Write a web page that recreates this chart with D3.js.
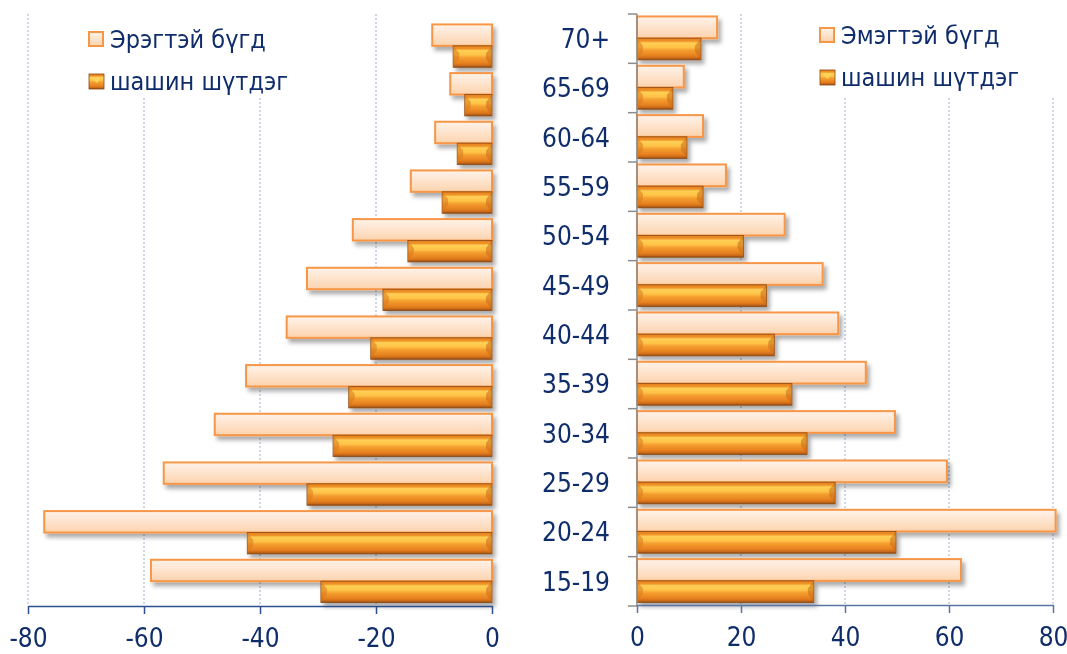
<!DOCTYPE html>
<html><head><meta charset="utf-8">
<script src="https://cdn.jsdelivr.net/npm/d3@7"></script>
<style>
html,body{margin:0;padding:0;background:#fff;}
svg{display:block;}
</style></head>
<body>
<svg id="chart" width="1067" height="654"></svg>
<script>
const categories = ["15-19","20-24","25-29","30-34","35-39","40-44","45-49","50-54","55-59","60-64","65-69","70+"];
const maleTotal    = [-58.8,-77.2,-56.6,-47.8,-42.4,-35.4,-31.9,-24.0,-14.0,-9.8,-7.2,-10.3];
const maleReligious= [-29.5,-42.2,-31.9,-27.4,-24.7,-20.9,-18.8,-14.5,-8.6,-6.0,-4.7,-6.7];
const femaleTotal    = [62.3,80.5,59.6,49.6,44.0,38.7,35.7,28.4,17.1,12.7,9.0,15.4];
const femaleReligious= [34.0,49.8,38.1,32.7,29.8,26.4,24.9,20.5,12.7,9.6,6.9,12.3];
const leftTicks = [-80,-60,-40,-20,0];
const rightTicks = [0,20,40,60,80];
const legendLeft = ["Эрэгтэй бүгд","шашин шүтдэг"];
const legendRight = ["Эмэгтэй бүгд","шашин шүтдэг"];

const svg = d3.select("#chart");
const navy = "#102d6b";
const font = "'DejaVu Sans Condensed', 'DejaVu Sans', sans-serif";

// defs
const defs = svg.append("defs");
const lg = defs.append("linearGradient").attr("id","lightG").attr("x1",0).attr("y1",0).attr("x2",0).attr("y2",1);
[["0%","#fff3ea"],["100%","#fcd3ae"]].forEach(s=>lg.append("stop").attr("offset",s[0]).attr("stop-color",s[1]));
const dg = defs.append("linearGradient").attr("id","darkG").attr("x1",0).attr("y1",0).attr("x2",0).attr("y2",1);
[["0%","#e57f1c"],["14%","#ef9429"],["22%","#ffcf55"],["42%","#ffc447"],["55%","#f59f30"],["82%","#e57f1e"],["92%","#c8691a"],["100%","#8e4c14"]]
  .forEach(s=>dg.append("stop").attr("offset",s[0]).attr("stop-color",s[1]));
const f = defs.append("filter").attr("id","shadow").attr("x","-10%").attr("y","-30%").attr("width","130%").attr("height","190%");
f.append("feDropShadow").attr("dx",3).attr("dy",4).attr("stdDeviation",2.2).attr("flood-color","#000").attr("flood-opacity",0.33);

// scales
const xL = d3.scaleLinear().domain([-80,0]).range([28,492]);
const xR = d3.scaleLinear().domain([0,80]).range([637,1053]);
const yL = d3.scaleBand().domain(categories.slice().reverse()).range([22,606]);
const yR = d3.scaleBand().domain(categories.slice().reverse()).range([14,606]);

function grid(x, ticks, y0, y1){
  svg.append("g").selectAll("line").data(ticks).join("line")
    .attr("x1",d=>x(d)).attr("x2",d=>x(d)).attr("y1",y0).attr("y2",y1)
    .attr("stroke","#9fb0cc").attr("stroke-width",1).attr("stroke-dasharray","2,2");
}
grid(xL, [-80,-60,-40,-20], 14, 606);
grid(xR, [20,40,60,80], 14, 606);

function bevelBar(g, x, y, w, h){
  g.append("rect").attr("x",x).attr("y",y).attr("width",w).attr("height",h)
    .attr("fill","url(#darkG)").attr("stroke","#8a4a16").attr("stroke-width",0.8);
  const b = Math.min(6, w/2);
  g.append("polygon").attr("points",[[x,y],[x+b,y+h*0.35],[x+b,y+h*0.6],[x,y+h]].join(" "))
    .attr("fill","#d9791d").attr("opacity",0.55);
  g.append("polygon").attr("points",[[x+w,y],[x+w-b,y+h*0.35],[x+w-b,y+h*0.6],[x+w,y+h]].join(" "))
    .attr("fill","#c9691a").attr("opacity",0.55);
}

function drawSide(x, y, totals, rel){
  const bw = y.bandwidth();
  const g = svg.append("g").attr("filter","url(#shadow)");
  categories.forEach((c,i)=>{
    const y0 = y(c);
    const h = bw*0.44;
    const t = totals[i], r = rel[i];
    const xt0 = Math.min(x(0), x(t)), wt = Math.abs(x(t)-x(0));
    g.append("rect").attr("x",xt0).attr("y",y0+bw*0.05).attr("width",wt).attr("height",h)
      .attr("fill","url(#lightG)").attr("stroke","#f79646").attr("stroke-width",2);
    const xr0 = Math.min(x(0), x(r)), wr = Math.abs(x(r)-x(0));
    bevelBar(g, xr0, y0+bw*0.05+h, wr, h);
  });
}
drawSide(xL, yL, maleTotal, maleReligious);
drawSide(xR, yR, femaleTotal, femaleReligious);

// x axes
function xAxis(x, ticks, yPos, color){
  const a = svg.append("g").attr("transform",`translate(0,${yPos})`)
    .call(d3.axisBottom(x).tickValues(ticks).tickSize(8).tickPadding(15).tickFormat(d=>String(d)).tickSizeOuter(0));
  a.select(".domain").attr("stroke",color).attr("stroke-width",1.5);
  a.selectAll(".tick line").attr("stroke",color).attr("stroke-width",1.5);
  a.selectAll("text").attr("fill",navy).style("font-family",font).style("font-size","26px");
  return a;
}
xAxis(xL, leftTicks, 606, "#2d4f8e");
xAxis(xR, rightTicks, 605, "#5a76a6");

// category axis (right chart)
const cat = svg.append("g");
cat.append("line").attr("x1",637).attr("x2",637).attr("y1",yR.range()[0]).attr("y2",yR.range()[1])
  .attr("stroke","#8c8c8c").attr("stroke-width",1.5);
const bounds = categories.map(c=>yR(c)).concat([yR.range()[1]]);
cat.selectAll("line.t").data(bounds).join("line").attr("class","t")
  .attr("x1",628).attr("x2",637).attr("y1",d=>d).attr("y2",d=>d)
  .attr("stroke","#8c8c8c").attr("stroke-width",1.5);
cat.selectAll("text").data(categories).join("text")
  .attr("x",610).attr("y",d=>yR(d)+yR.bandwidth()/2).attr("dy","0.36em")
  .attr("text-anchor","end").attr("fill",navy)
  .style("font-family",font).style("font-size","26px").text(d=>d);

// legends
function legend(x0, y0, labels, boxW){
  const g = svg.append("g");
  g.append("rect").attr("x",x0-10).attr("y",0).attr("width",boxW).attr("height",97).attr("fill","#fff");
  labels.forEach((t,i)=>{
    const yy = y0 + i*42;
    if(i===0){
      g.append("rect").attr("x",x0).attr("y",yy).attr("width",14).attr("height",14)
        .attr("fill","url(#lightG)").attr("stroke","#f79646").attr("stroke-width",2);
    } else {
      g.append("rect").attr("x",x0).attr("y",yy).attr("width",15).attr("height",15)
        .attr("fill","url(#darkG)").attr("stroke","#8a4a16").attr("stroke-width",0.8);
      g.append("polygon").attr("points",[[x0+2,yy+3],[x0+13,yy+3],[x0+7.5,yy+9]].join(" ")).attr("fill","#ffd35a");
    }
    g.append("text").attr("x",x0+21).attr("y",yy+16).attr("fill",navy)
      .style("font-family",font).style("font-size","25px").text(t);
  });
}
legend(89, 32, legendLeft, 250);
legend(820, 28, legendRight, 257);
</script>
</body></html>
